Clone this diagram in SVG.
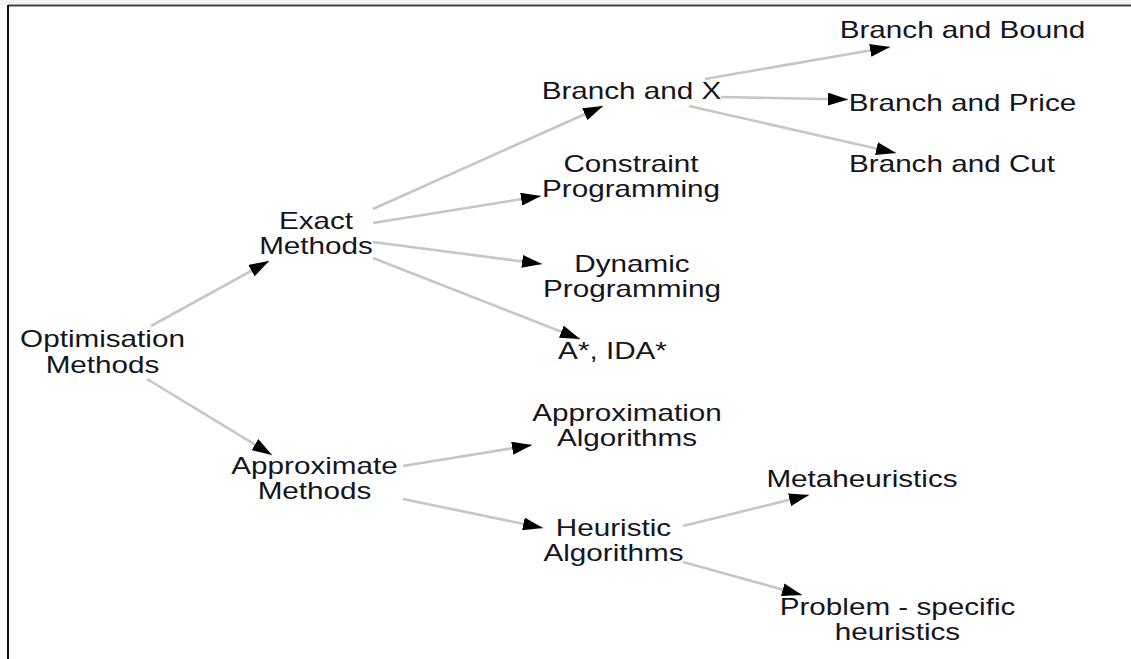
<svg xmlns="http://www.w3.org/2000/svg" width="1131" height="659" viewBox="0 0 1131 659">
  <defs>
    <style>
      .lbl { font-family: "Liberation Sans", Arial, sans-serif; font-size: 23px; fill: #151520; text-anchor: middle; }
      .edge { fill: none; stroke: #c6c6c6; stroke-width: 2.6; marker-end: url(#head); }
    </style>
    <marker id="head" markerUnits="userSpaceOnUse" markerWidth="20" markerHeight="13" refX="20" refY="6.5" orient="auto">
      <path d="M0,0 L20,6.5 L0,13 z" fill="#000"/>
    </marker>
  </defs>

  <!-- frame -->
  <rect x="0" y="0" width="1131" height="5" fill="#f3f3f3"/>
  <line x1="8" y1="5.5" x2="1131" y2="5.5" stroke="#444" stroke-width="2"/>
  <line x1="8" y1="5" x2="8" y2="659" stroke="#111" stroke-width="2"/>

  <!-- connectors -->
  <g id="connectors">
    <line class="edge" x1="151" y1="326" x2="269" y2="261"/>
    <line class="edge" x1="147" y1="379" x2="272" y2="455"/>
    <line class="edge" x1="373" y1="209" x2="603" y2="106"/>
    <line class="edge" x1="373" y1="223" x2="541" y2="196"/>
    <line class="edge" x1="373" y1="242" x2="542" y2="264"/>
    <line class="edge" x1="373" y1="258" x2="580" y2="339"/>
    <line class="edge" x1="705" y1="79" x2="890" y2="47"/>
    <line class="edge" x1="721" y1="97" x2="848" y2="99.5"/>
    <line class="edge" x1="689" y1="106" x2="896" y2="153"/>
    <line class="edge" x1="403" y1="466" x2="532" y2="445"/>
    <line class="edge" x1="403" y1="499" x2="543" y2="528"/>
    <line class="edge" x1="683" y1="526" x2="809" y2="495"/>
    <line class="edge" x1="683" y1="562" x2="802" y2="595"/>
  </g>

  <!-- nodes -->
  <g id="optimisation-methods">
    <text class="lbl" transform="translate(102.5,347) scale(1.29,1)"><tspan x="0">Optimisation</tspan><tspan x="0" dy="26">Methods</tspan></text>
  </g>
  <g id="exact-methods">
    <text class="lbl" transform="translate(316,229) scale(1.29,1)"><tspan x="0">Exact</tspan><tspan x="0" dy="25">Methods</tspan></text>
  </g>
  <g id="approximate-methods">
    <text class="lbl" transform="translate(314.5,474) scale(1.29,1)"><tspan x="0">Approximate</tspan><tspan x="0" dy="25">Methods</tspan></text>
  </g>
  <g id="branch-and-x">
    <text class="lbl" transform="translate(631.5,99) scale(1.29,1)">Branch and X</text>
  </g>
  <g id="constraint-programming">
    <text class="lbl" transform="translate(631,172) scale(1.29,1)"><tspan x="0">Constraint</tspan><tspan x="0" dy="25">Programming</tspan></text>
  </g>
  <g id="dynamic-programming">
    <text class="lbl" transform="translate(632,272) scale(1.29,1)"><tspan x="0">Dynamic</tspan><tspan x="0" dy="25">Programming</tspan></text>
  </g>
  <g id="a-star">
    <text class="lbl" transform="translate(612.5,359) scale(1.29,1)">A*, IDA*</text>
  </g>
  <g id="branch-and-bound">
    <text class="lbl" transform="translate(962.5,38) scale(1.29,1)">Branch and Bound</text>
  </g>
  <g id="branch-and-price">
    <text class="lbl" transform="translate(962.5,111) scale(1.29,1)">Branch and Price</text>
  </g>
  <g id="branch-and-cut">
    <text class="lbl" transform="translate(952,172) scale(1.29,1)">Branch and Cut</text>
  </g>
  <g id="approximation-algorithms">
    <text class="lbl" transform="translate(627,421) scale(1.29,1)"><tspan x="0">Approximation</tspan><tspan x="0" dy="25">Algorithms</tspan></text>
  </g>
  <g id="heuristic-algorithms">
    <text class="lbl" transform="translate(613.5,536) scale(1.29,1)"><tspan x="0">Heuristic</tspan><tspan x="0" dy="25">Algorithms</tspan></text>
  </g>
  <g id="metaheuristics">
    <text class="lbl" transform="translate(862,487) scale(1.29,1)">Metaheuristics</text>
  </g>
  <g id="problem-specific-heuristics">
    <text class="lbl" transform="translate(897.5,615) scale(1.29,1)"><tspan x="0">Problem - specific</tspan><tspan x="0" dy="25">heuristics</tspan></text>
  </g>
</svg>
